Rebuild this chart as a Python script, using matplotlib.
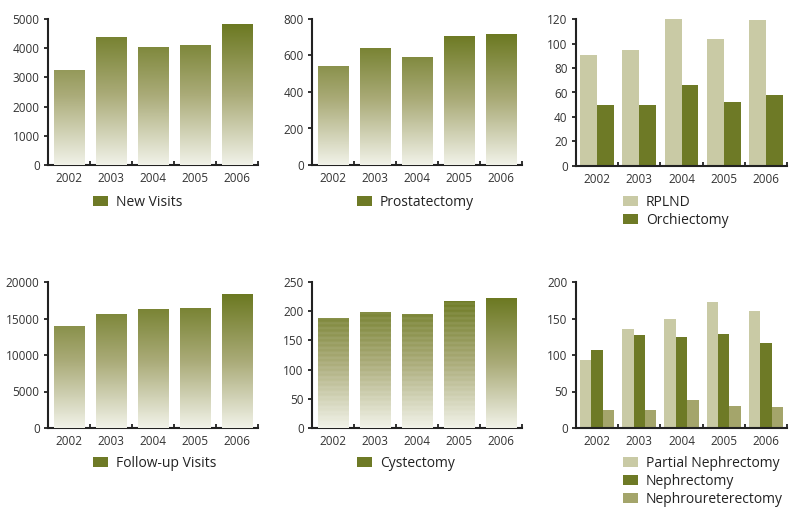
import matplotlib
matplotlib.use('Agg')
import matplotlib.pyplot as plt
import numpy as np
from matplotlib.colors import LinearSegmentedColormap

plt.rcParams['font.family'] = ['Open Sans', 'DejaVu Sans']

# data
years = ['2002', '2003', '2004', '2005', '2006']
new_visits = [3240, 4350, 4040, 4085, 4805]
prostatectomy = [539, 639, 590, 703, 716]
rplnd = [91, 95, 120, 104, 119]
orchiectomy = [50, 50, 66, 52, 58]
followup_visits = [13900, 15600, 16250, 16380, 18350]
cystectomy = [187, 197, 194, 216, 222]
partial_neph = [93, 135, 149, 172, 160]
nephrectomy = [107, 128, 124, 129, 117]
nephroureterectomy = [25, 25, 39, 30, 29]

dark = '#6e7a26'
light = '#c9caa5'
medium = '#a4a56b'
grad = LinearSegmentedColormap.from_list('olive', ['#f1f2e8', '#aaab78', '#6c7922'])

W, H = 800, 511
fig = plt.figure(figsize=(8, 5.11), dpi=100)


def make_ax(left, right, bottom, top):
    return fig.add_axes([left / W, 1 - bottom / H, (right - left) / W, (bottom - top) / H])


def style_axis(ax, ymax, ystep):
    ax.set_xlim(-0.5, 4.5)
    ax.set_ylim(0, ymax)
    ax.set_yticks(np.arange(0, ymax + 1, ystep))
    ax.set_xticks(range(5))
    ax.set_xticklabels(years)
    ax.set_xticks(np.arange(0.5, 5, 1), minor=True)
    ax.tick_params(axis='x', which='major', length=0, pad=5, labelsize=8.5, labelcolor='#333333')
    ax.tick_params(axis='x', which='minor', direction='in', length=3, width=1.3, color='#222222')
    ax.tick_params(axis='y', direction='out', length=3, width=1.3, color='#222222',
                   pad=3, labelsize=8.5, labelcolor='#333333')
    for s in ['top', 'right']:
        ax.spines[s].set_visible(False)
    for s in ['left', 'bottom']:
        ax.spines[s].set_linewidth(1.5)
        ax.spines[s].set_color('#222222')


def gradient_bars(ax, values, striped=()):
    bars = ax.bar(range(5), values, width=0.73, color=dark, zorder=2)
    vmax = max(values)
    for i, b in enumerate(bars):
        h = b.get_height()
        n = 400
        y = np.linspace(0, h, n)
        rgb = grad(y / vmax)[:, :3]
        if i in striped:
            band = (np.floor(y / 4.2) % 2 == 0)
            rgb[band] = rgb[band] * 0.93 + 0.07
        img = np.repeat(rgb[:, None, :], 2, axis=1)
        x0 = b.get_x()
        ax.imshow(img, extent=[x0, x0 + b.get_width(), 0, h], origin='lower',
                  aspect='auto', zorder=3, interpolation='bilinear')
    return bars


def add_legend(ax, handles, labels, x, y):
    leg = ax.legend(handles, labels, loc='upper left', bbox_to_anchor=(x / W, 1 - y / H),
                    bbox_transform=fig.transFigure, frameon=False, fontsize=10,
                    handlelength=1.1, handleheight=0.75, handletextpad=0.55,
                    labelspacing=0.22, borderpad=0, borderaxespad=0)
    for t in leg.get_texts():
        t.set_color('#222222')


x = np.arange(5)

# New Visits
ax1 = make_ax(48, 258, 165, 19)
b = gradient_bars(ax1, new_visits)
style_axis(ax1, 5000, 1000)
add_legend(ax1, [b], ['New Visits'], 93, 195)

# Prostatectomy
ax2 = make_ax(312, 522, 165, 19)
b = gradient_bars(ax2, prostatectomy)
style_axis(ax2, 800, 200)
add_legend(ax2, [b], ['Prostatectomy'], 357, 195)

# RPLND / Orchiectomy
ax3 = make_ax(576, 787, 166, 19)
b1 = ax3.bar(x - 0.2, rplnd, width=0.4, color=light, zorder=2)
b2 = ax3.bar(x + 0.2, orchiectomy, width=0.4, color=dark, zorder=2)
style_axis(ax3, 120, 20)
add_legend(ax3, [b1, b2], ['RPLND', 'Orchiectomy'], 623, 195)

# Follow-up Visits
ax4 = make_ax(48, 258, 428, 282)
b = gradient_bars(ax4, followup_visits)
style_axis(ax4, 20000, 5000)
add_legend(ax4, [b], ['Follow-up Visits'], 93, 456)

# Cystectomy
ax5 = make_ax(312, 522, 428, 282)
b = gradient_bars(ax5, cystectomy, striped=(0, 1, 2, 3))
style_axis(ax5, 250, 50)
add_legend(ax5, [b], ['Cystectomy'], 357, 456)

# Nephrectomy group
ax6 = make_ax(576, 787, 428, 282)
w = 0.27
c1 = ax6.bar(x - w, partial_neph, width=w, color=light, zorder=2)
c2 = ax6.bar(x, nephrectomy, width=w, color=dark, zorder=2)
c3 = ax6.bar(x + w, nephroureterectomy, width=w, color=medium, zorder=2)
style_axis(ax6, 200, 50)
add_legend(ax6, [c1, c2, c3], ['Partial Nephrectomy', 'Nephrectomy', 'Nephroureterectomy'], 623, 456)

fig.savefig('out.png', dpi=100)
